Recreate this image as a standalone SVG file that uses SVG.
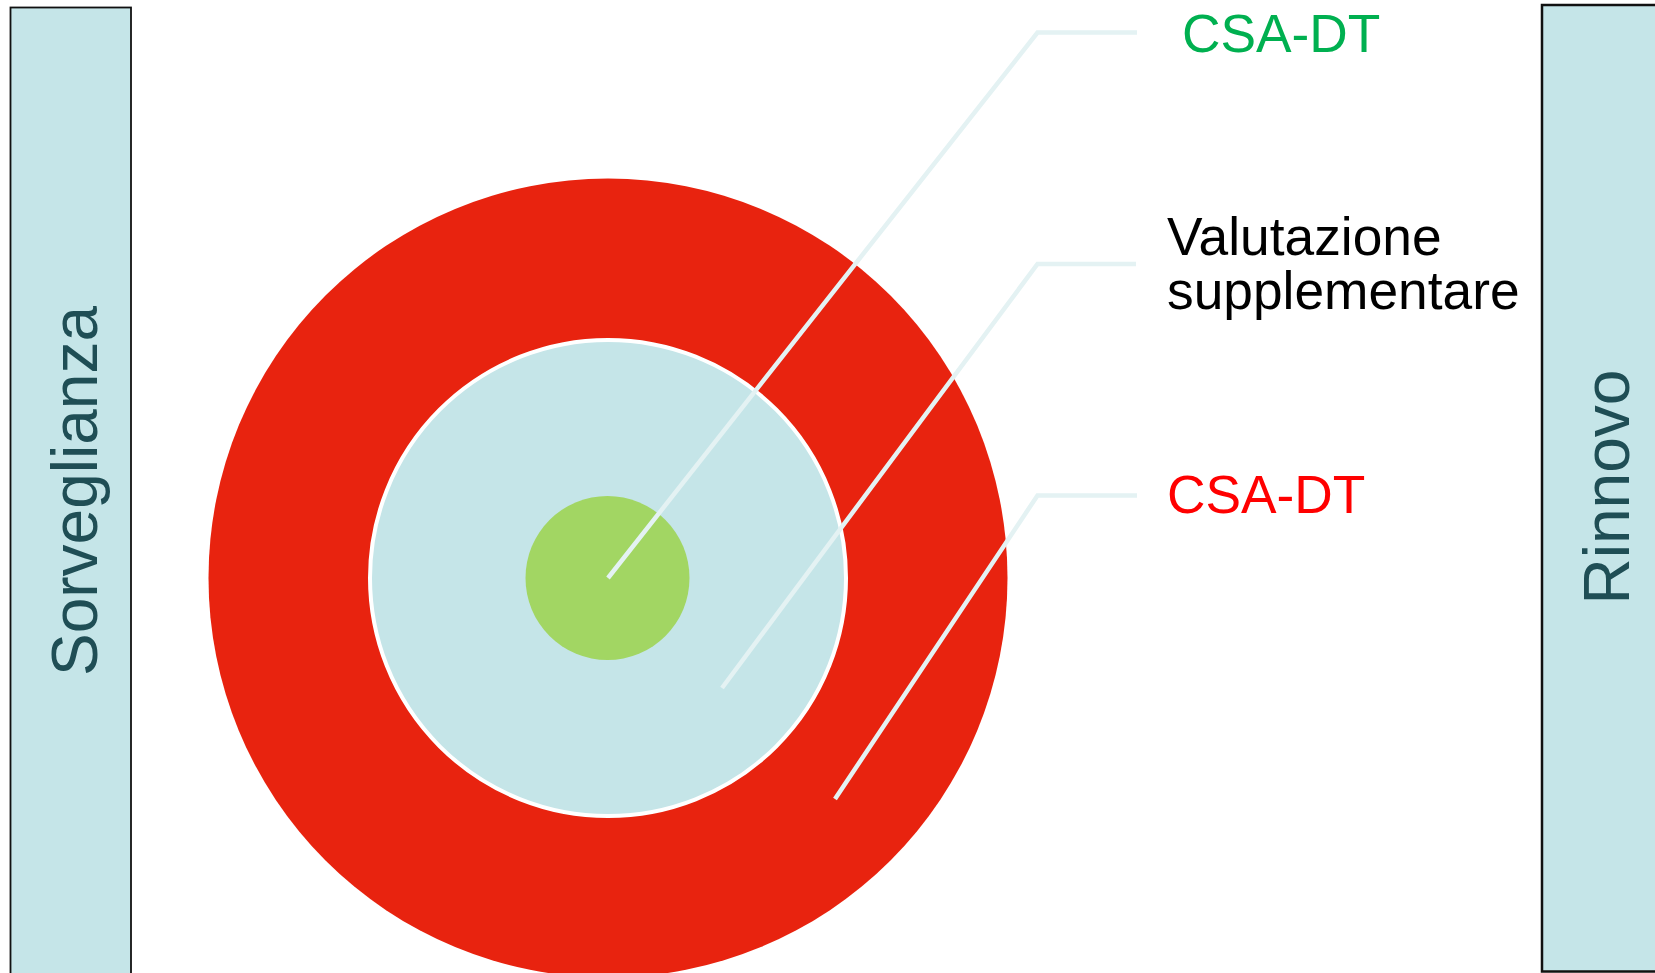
<svg xmlns="http://www.w3.org/2000/svg" width="1655" height="973" viewBox="0 0 1655 973">
<style>
.bar{fill:#C5E5E8;stroke:#111;}
.side{font-family:"Liberation Sans",Arial,sans-serif;font-size:64px;fill:#1F4E55;text-anchor:middle;}
.lbl{font-family:"Liberation Sans",Arial,sans-serif;font-size:53.3px;}
.conn{fill:none;stroke:#E4F2F3;stroke-width:4.5;}
</style>
<rect width="1655" height="973" fill="#FFFFFF"/>
<g id="sorveglianza">
<rect class="bar" x="10.5" y="7.5" width="120.5" height="990" stroke-width="1.8"/>
<text class="side" transform="translate(97 491) rotate(-90)">Sorveglianza</text>
</g>
<g id="rinnovo">
<rect class="bar" x="1542" y="5" width="130" height="966.5" stroke-width="2.5"/>
<text class="side" transform="translate(1629 487) rotate(-90)">Rinnovo</text>
</g>
<g id="outer-ring">
<circle cx="608" cy="578" r="399.5" fill="#E8230F"/>
</g>
<g id="middle-ring">
<circle cx="608" cy="578" r="238" fill="#C5E5E8" stroke="#FFFFFF" stroke-width="4"/>
</g>
<g id="core">
<circle cx="607.5" cy="578" r="82" fill="#A2D663"/>
</g>
<g id="connectors">
<polyline class="conn" points="608,578 1037.5,32.5 1137,32.5"/>
<polyline class="conn" points="722,688 1037.5,264 1136,264"/>
<polyline class="conn" points="835,799 1037.5,495.5 1137,495.5"/>
</g>
<g id="label-green">
<text class="lbl" x="1182" y="51.7" fill="#00B050">CSA-DT</text>
</g>
<g id="label-valutazione">
<text class="lbl" x="1167" y="255" fill="#000000">Valutazione</text>
<text class="lbl" x="1167" y="309" fill="#000000">supplementare</text>
</g>
<g id="label-red">
<text class="lbl" x="1167" y="513.3" fill="#FF0000">CSA-DT</text>
</g>
</svg>
